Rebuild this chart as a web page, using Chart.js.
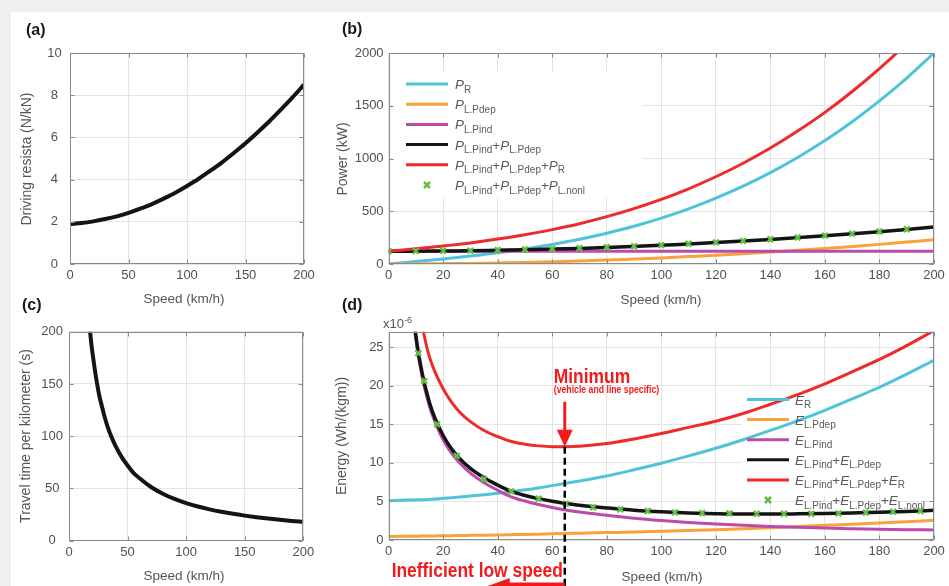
<!DOCTYPE html>
<html>
<head>
<meta charset="utf-8">
<title>Driving resistance, power and energy vs speed</title>
<script src="https://cdn.jsdelivr.net/npm/chart.js@4.4.1/dist/chart.umd.min.js"></script>
<style>
  body { margin: 0; background: #f0f0f0; }
  #page { position: relative; width: 949px; height: 586px; overflow: hidden; background: #f0f0f0; font-family: "Liberation Sans", Arial, sans-serif; }
  #sheet { position: absolute; left: 11px; top: 12px; right: 0; bottom: 0; background: #fff; }
  #page canvas { position: absolute; }
  .tag { position: absolute; font-size: 16px; font-weight: bold; color: #1a1a1a; transform: translateY(-50%); line-height: 1; }
  .xt, .yt { position: absolute; color: #555; white-space: nowrap; line-height: 1; }
  .xt { font-size: 13.5px; transform: translate(-50%, -50%); }
  .yt { font-size: 14px; transform: translate(-50%, -50%) rotate(-90deg); }
  .exp { position: absolute; left: 383px; top: 323px; font-size: 13px; color: #555; transform: translateY(-50%); line-height: 1; }
  .exp sup { font-size: 9px; vertical-align: 5px; }
</style>
</head>
<body>
<div id="page">
  <div id="sheet"></div>
  <canvas id="cvA" width="330" height="290" style="left:0;top:12px"></canvas>
  <canvas id="cvB" width="619" height="290" style="left:330px;top:12px"></canvas>
  <canvas id="cvC" width="330" height="284" style="left:0;top:302px"></canvas>
  <canvas id="cvD" width="619" height="284" style="left:330px;top:302px"></canvas>

  <div class="tag" style="left:26px;top:30px">(a)</div>
  <div class="tag" style="left:342px;top:29px">(b)</div>
  <div class="tag" style="left:22px;top:305px">(c)</div>
  <div class="tag" style="left:342px;top:305px">(d)</div>

  <div class="yt" style="left:26px;top:159px">Driving resista (N/kN)</div>
  <div class="yt" style="left:342px;top:159px">Power (kW)</div>
  <div class="yt" style="left:25px;top:436px">Travel time per kilometer (s)</div>
  <div class="yt" style="left:341px;top:436px">Energy (Wh/(kgm))</div>

  <div class="xt" style="left:184px;top:299px">Speed (km/h)</div>
  <div class="xt" style="left:661px;top:300px">Speed (km/h)</div>
  <div class="xt" style="left:184px;top:576px">Speed (km/h)</div>
  <div class="xt" style="left:662px;top:577px">Speed (km/h)</div>

  <div class="exp">x10<sup>-6</sup></div>
</div>

<script>
/* four-panel speed study: resistance, power, travel time, energy */

var FONT = '"Liberation Sans", Arial, sans-serif';
Chart.defaults.font.family = FONT;

var cyan = '#4fc3d9', orange = '#f7a23a', magenta = '#bb4aaa', black = '#141414', red = '#ee2a2a', green = '#62bd45';
var gridGrey = '#e4e4e4', axisGrey = '#8a8a8a', tickText = '#505050', keyText = '#5a5a5a', noteRed = '#f21a1a';

// (a) driving resistance, N/kN
var speedA = [0, 10, 20, 30, 40, 50, 60, 70, 80, 90, 100, 110, 120, 130, 140, 150, 160, 170, 180, 190, 200];
var resistA = [1.90, 1.94, 2.02, 2.13, 2.26, 2.42, 2.62, 2.84, 3.10, 3.38, 3.70, 4.04, 4.42, 4.82, 5.26, 5.72, 6.22, 6.74, 7.30, 7.88, 8.50];

// (b) power, kW
var speedB = [0, 10, 20, 30, 40, 50, 60, 70, 80, 90, 100, 110, 120, 130, 140, 150, 160, 170, 180, 190, 200];
var pR = [0, 23, 48, 75, 106, 143, 185, 234, 292, 358, 435, 523, 624, 738, 866, 1010, 1170, 1349, 1546, 1762, 2000];
var pLPdep = [0, 1, 3, 5, 10, 15, 21, 28, 37, 47, 57, 70, 83, 97, 113, 130, 147, 166, 186, 208, 230];
var pLPind = [120, 120, 120, 120, 120, 120, 120, 120, 120, 120, 120, 120, 120, 120, 120, 120, 120, 120, 120, 120, 120];
var pLSum = [120, 121, 123, 125, 130, 135, 141, 148, 157, 167, 177, 190, 203, 217, 233, 250, 267, 286, 306, 328, 350];
var pTotal = [120, 144, 171, 200, 236, 278, 326, 382, 449, 525, 612, 713, 827, 955, 1099, 1260, 1437, 1635, 1852, 2090, 2350];
var speedBMarks = [0, 10, 20, 30, 40, 50, 60, 70, 80, 90, 100, 110, 120, 130, 140, 150, 160, 170, 180, 190];
var pNonl = [122, 123, 125, 127, 132, 137, 143, 150, 159, 169, 179, 192, 205, 219, 235, 252, 269, 288, 308, 330];

// (c) travel time per kilometre, s
var speedC = [17, 18, 19, 20, 22, 24, 26, 28, 30, 33, 36, 40, 45, 50, 55, 60, 70, 80, 90, 100, 110, 120, 130, 140, 150, 160, 170, 180, 190, 200];
var timeC = [212, 200, 189, 180, 164, 150, 138, 129, 120, 109, 100, 90, 80, 72, 65, 60, 51.4, 45, 40, 36, 32.7, 30, 27.7, 25.7, 24, 22.5, 21.2, 20, 18.9, 18];

// (d) energy, x1e-6 Wh/(kg m)
var speedD = [0, 5, 9, 10, 11, 12, 13, 14, 15, 17, 20, 23, 26, 30, 35, 40, 45, 50, 55, 60, 65, 70, 80, 90, 100, 110, 120, 130, 140, 150, 160, 170, 180, 190, 200];
var eR = [5.10, 5.15, 5.20, 5.20, 5.21, 5.22, 5.23, 5.24, 5.26, 5.30, 5.40, 5.48, 5.57, 5.70, 5.87, 6.05, 6.27, 6.50, 6.75, 7.05, 7.35, 7.65, 8.30, 9.10, 9.95, 10.9, 11.9, 13.0, 14.2, 15.45, 16.8, 18.3, 19.8, 21.5, 23.3];
var eLPdep = [0.45, 0.47, 0.49, 0.50, 0.50, 0.51, 0.51, 0.52, 0.52, 0.53, 0.55, 0.56, 0.58, 0.60, 0.63, 0.66, 0.69, 0.72, 0.76, 0.80, 0.84, 0.88, 0.96, 1.04, 1.13, 1.23, 1.34, 1.46, 1.60, 1.75, 1.90, 2.05, 2.20, 2.37, 2.55];
var eLPind = [null, null, 28.9, 26.0, 23.6, 21.7, 20.0, 18.6, 17.3, 15.3, 13.0, 11.3, 10.0, 8.67, 7.43, 6.45, 5.6, 5.05, 4.6, 4.22, 3.9, 3.62, 3.2, 2.82, 2.52, 2.27, 2.07, 1.9, 1.76, 1.64, 1.54, 1.46, 1.39, 1.34, 1.3];
var eLSum = [null, null, 29.4, 26.5, 24.1, 22.2, 20.5, 19.1, 17.8, 15.8, 13.55, 11.86, 10.58, 9.27, 8.06, 7.11, 6.29, 5.77, 5.36, 5.02, 4.74, 4.5, 4.16, 3.86, 3.65, 3.5, 3.41, 3.36, 3.36, 3.39, 3.44, 3.51, 3.59, 3.71, 3.85];
var eTotal = [null, null, 34.6, 31.7, 29.3, 28.2, 26.6, 25.0, 23.7, 21.8, 19.6, 17.9, 16.6, 15.35, 14.2, 13.4, 12.77, 12.42, 12.2, 12.1, 12.1, 12.15, 12.5, 13.1, 13.8, 14.6, 15.4, 16.4, 17.6, 18.85, 20.25, 21.8, 23.4, 25.2, 27.15];
var speedDMarks = [10.9, 13.1, 17.8, 25, 35, 45, 55, 65, 75, 85, 95, 105, 115, 125, 135, 145, 155, 165, 175, 185, 195];
var eNonl = [24.2, 20.6, 15.0, 10.9, 7.9, 6.3, 5.35, 4.7, 4.25, 3.97, 3.76, 3.58, 3.5, 3.45, 3.41, 3.41, 3.41, 3.45, 3.55, 3.67, 3.76];

// minimum marker in (d)
var minSpeed = 64.6, minEnergy = 12.1, arrowFrom = 17.9;

function pts(xs, ys) {
  var out = [];
  for (var i = 0; i < xs.length; i++) if (ys[i] !== null) out.push({ x: xs[i], y: ys[i] });
  return out;
}

function curve(xs, ys, color, width) {
  return { data: pts(xs, ys), borderColor: color, borderWidth: width, pointRadius: 0, fill: false, cubicInterpolationMode: 'monotone' };
}

function crosses(xs, ys) {
  return { data: pts(xs, ys), showLine: false, pointStyle: 'crossRot', pointRadius: 4, pointBorderWidth: 2.5,
           pointBorderColor: green, pointBackgroundColor: green, borderColor: green };
}

function term(sym, sub) { return [[sym, 'i'], [sub, 's']]; }
function plus() {
  var out = [];
  for (var i = 0; i < arguments.length; i++) { if (i) out.push(['+', 'n']); out = out.concat(arguments[i]); }
  return out;
}

function rich(ctx, x, y, parts) {
  ctx.fillStyle = keyText;
  ctx.textBaseline = 'alphabetic';
  ctx.textAlign = 'left';
  var base = y + 5;
  parts.forEach(function (p) {
    var sub = p[1] === 's';
    ctx.font = sub ? '10px ' + FONT : (p[1] === 'i' ? 'italic ' : '') + '13.5px ' + FONT;
    ctx.fillText(p[0], x, sub ? base + 3.5 : base);
    x += ctx.measureText(p[0]).width;
  });
}

function squeezed(ctx, text, x, y, font, sx, align) {
  ctx.save();
  ctx.font = font + ' ' + FONT;
  ctx.textAlign = align;
  ctx.textBaseline = 'alphabetic';
  ctx.translate(x, y);
  ctx.scale(sx, 1);
  ctx.fillText(text, 0, 0);
  ctx.restore();
}

// box round the plot with inward tick marks on all four sides
var frame = {
  id: 'frame',
  afterDatasetsDraw: function (chart) {
    var a = chart.chartArea, ctx = chart.ctx, xs = chart.scales.x, ys = chart.scales.y;
    var l = Math.round(a.left) + 0.5, r = Math.round(a.right) - 0.5, t = Math.round(a.top) + 0.5, b = Math.round(a.bottom) - 0.5;
    ctx.save();
    ctx.strokeStyle = axisGrey;
    ctx.lineWidth = 1;
    ctx.strokeRect(l, t, r - l, b - t);
    ctx.beginPath();
    xs.ticks.forEach(function (tk) {
      var p = Math.round(xs.getPixelForValue(tk.value)) + 0.5;
      ctx.moveTo(p, b); ctx.lineTo(p, b - 4);
      ctx.moveTo(p, t); ctx.lineTo(p, t + 4);
    });
    ys.ticks.forEach(function (tk) {
      var p = Math.round(ys.getPixelForValue(tk.value)) + 0.5;
      ctx.moveTo(l, p); ctx.lineTo(l + 4, p);
      ctx.moveTo(r, p); ctx.lineTo(r - 4, p);
    });
    ctx.stroke();
    ctx.restore();
  }
};

// legend with subscripts; white patch hides the grid, curves run over it
var keyBox = {
  id: 'keyBox',
  beforeDatasetsDraw: function (chart, args, o) {
    var ctx = chart.ctx;
    ctx.save();
    ctx.fillStyle = '#fff';
    ctx.fillRect(o.box[0], o.box[1], o.box[2], o.box[3]);
    ctx.restore();
  },
  afterDraw: function (chart, args, o) {
    var ctx = chart.ctx;
    o.items.forEach(function (it, i) {
      var y = o.y0 + i * o.dy;
      ctx.save();
      ctx.strokeStyle = it.color;
      if (it.mark) {
        ctx.lineWidth = 2.5;
        ctx.beginPath();
        ctx.moveTo(o.mx - 3, y - 3); ctx.lineTo(o.mx + 3, y + 3);
        ctx.moveTo(o.mx - 3, y + 3); ctx.lineTo(o.mx + 3, y - 3);
        ctx.stroke();
      } else {
        ctx.lineWidth = 3;
        ctx.beginPath();
        ctx.moveTo(o.sx[0], y); ctx.lineTo(o.sx[1], y);
        ctx.stroke();
      }
      rich(ctx, o.tx, y, it.parts);
      ctx.restore();
    });
  }
};

// "Minimum" arrow, drop line and the low-speed note in (d)
var note = {
  id: 'note',
  afterDraw: function (chart) {
    var ctx = chart.ctx, xs = chart.scales.x, ys = chart.scales.y;
    var x = xs.getPixelForValue(minSpeed);
    var tip = ys.getPixelForValue(minEnergy);
    var top = ys.getPixelForValue(arrowFrom);
    ctx.save();
    ctx.strokeStyle = '#000';
    ctx.lineWidth = 2.5;
    ctx.setLineDash([7, 4]);
    ctx.beginPath(); ctx.moveTo(x, tip); ctx.lineTo(x, chart.height); ctx.stroke();
    ctx.setLineDash([]);

    ctx.strokeStyle = noteRed;
    ctx.fillStyle = noteRed;
    ctx.lineWidth = 3;
    ctx.beginPath(); ctx.moveTo(x, top); ctx.lineTo(x, tip - 15); ctx.stroke();
    ctx.beginPath(); ctx.moveTo(x - 8, tip - 17); ctx.lineTo(x + 8, tip - 17); ctx.lineTo(x, tip); ctx.closePath(); ctx.fill();

    squeezed(ctx, 'Minimum', x - 11, 81, 'bold 20px', 0.87, 'left');
    squeezed(ctx, '(vehicle and line specific)', x - 11, 90.5, 'bold 10px', 0.87, 'left');
    squeezed(ctx, 'Inefficient low speed', x - 2, 275.3, 'bold 20px', 0.87, 'right');

    ctx.lineWidth = 5;
    ctx.beginPath(); ctx.moveTo(x, 283); ctx.lineTo(x - 58, 283); ctx.stroke();
    ctx.beginPath(); ctx.moveTo(x - 77, 284); ctx.lineTo(x - 55, 276); ctx.lineTo(x - 55, 292); ctx.closePath(); ctx.fill();
    ctx.restore();
  }
};

function panel(id, area, xr, yr, yAlign, yPad, datasets, extra) {
  var cv = document.getElementById(id);
  var W = cv.width, H = cv.height;
  var plugins = [frame];
  var popts = { legend: { display: false }, tooltip: { enabled: false } };
  if (extra && extra.key) { plugins.push(keyBox); popts.keyBox = extra.key; }
  if (extra && extra.note) plugins.push(note);
  return new Chart(cv, {
    type: 'line',
    data: { datasets: datasets },
    options: {
      responsive: false, animation: false, devicePixelRatio: 1,
      layout: { padding: { left: 0, top: area.top, right: W - area.right, bottom: 0 } },
      plugins: popts,
      scales: {
        x: {
          type: 'linear', min: xr[0], max: xr[1],
          afterFit: function (s) { s.height = H - area.bottom; },
          grid: { color: gridGrey, drawTicks: false },
          border: { display: false },
          ticks: { stepSize: xr[2], color: tickText, font: { size: 13 }, padding: 4, maxRotation: 0, autoSkip: false,
                   callback: function (v) { return v; } }
        },
        y: {
          type: 'linear', min: yr[0], max: yr[1],
          afterFit: function (s) { s.width = area.left; },
          grid: { color: gridGrey, drawTicks: false },
          border: { display: false },
          ticks: { stepSize: yr[2], includeBounds: false, color: tickText, font: { size: 13 }, padding: yPad,
                   crossAlign: yAlign, autoSkip: false, callback: function (v) { return v; } }
        }
      }
    },
    plugins: plugins
  });
}

panel('cvA', { left: 70, top: 41, right: 304, bottom: 252 }, [0, 200, 50], [0, 10, 2], 'center', 8.3,
  [curve(speedA, resistA, black, 4)]);

panel('cvB', { left: 58.6, top: 41, right: 604, bottom: 252 }, [0, 200, 20], [0, 2000, 500], 'near', 5,
  [crosses(speedBMarks, pNonl),
   curve(speedB, pTotal, red, 3),
   curve(speedB, pLSum, black, 3.5),
   curve(speedB, pLPind, magenta, 3),
   curve(speedB, pLPdep, orange, 3),
   curve(speedB, pR, cyan, 3)],
  { key: {
      box: [62, 60, 250, 125], y0: 72, dy: 20.2, sx: [76, 118], mx: 97, tx: 125,
      items: [
        { color: cyan, parts: term('P', 'R') },
        { color: orange, parts: term('P', 'L.Pdep') },
        { color: magenta, parts: term('P', 'L.Pind') },
        { color: black, parts: plus(term('P', 'L.Pind'), term('P', 'L.Pdep')) },
        { color: red, parts: plus(term('P', 'L.Pind'), term('P', 'L.Pdep'), term('P', 'R')) },
        { color: green, mark: true, parts: plus(term('P', 'L.Pind'), term('P', 'L.Pdep'), term('P', 'L.nonl')) }
      ] } });

panel('cvC', { left: 69, top: 29.7, right: 303.3, bottom: 238.7 }, [0, 200, 50], [0, 200, 50], 'center', 6,
  [curve(speedC, timeC, black, 4)]);

panel('cvD', { left: 58.6, top: 29.7, right: 604, bottom: 238 }, [0, 200, 20], [0, 27, 5], 'near', 5,
  [crosses(speedDMarks, eNonl),
   curve(speedD, eTotal, red, 3),
   curve(speedD, eLSum, black, 3.5),
   curve(speedD, eLPind, magenta, 3),
   curve(speedD, eLPdep, orange, 3),
   curve(speedD, eR, cyan, 3)],
  { note: true,
    key: {
      box: [412, 86, 190, 107], y0: 97.5, dy: 20.1, sx: [417, 459], mx: 438, tx: 465,
      items: [
        { color: cyan, parts: term('E', 'R') },
        { color: orange, parts: term('E', 'L.Pdep') },
        { color: magenta, parts: term('E', 'L.Pind') },
        { color: black, parts: plus(term('E', 'L.Pind'), term('E', 'L.Pdep')) },
        { color: red, parts: plus(term('E', 'L.Pind'), term('E', 'L.Pdep'), term('E', 'R')) },
        { color: green, mark: true, parts: plus(term('E', 'L.Pind'), term('E', 'L.Pdep'), term('E', 'L.nonl')) }
      ] } });
</script>
</body>
</html>
